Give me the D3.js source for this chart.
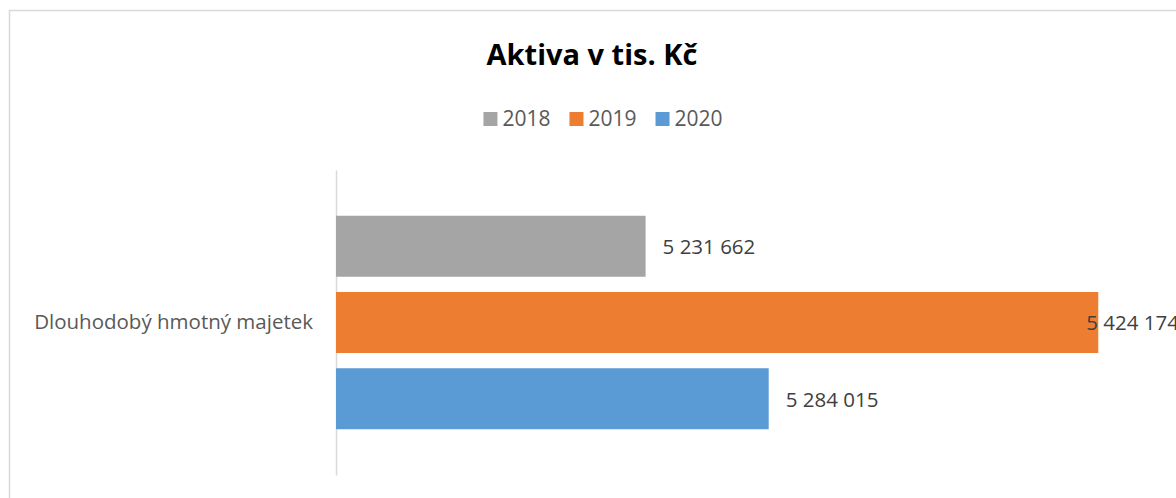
<!DOCTYPE html>
<html>
<head>
<meta charset="utf-8">
<script src="https://cdn.jsdelivr.net/npm/d3@7"></script>
<style>
  html, body { margin: 0; padding: 0; background: #fff; }
  svg { display: block; font-family: "Open Sans", sans-serif; }
</style>
</head>
<body>
<div id="chart"></div>
<script>
// data
var categories = ['Dlouhodobý hmotný majetek'];
var years = ['2018', '2019', '2020'];
var values = [5231662, 5424174, 5284015];
var colors = ['#a5a5a5', '#ed7d31', '#5b9bd5'];
var xDomain = [5100000, 5450000];
var chartTitle = 'Aktiva v tis. Kč';

var width = 1176, height = 498;
var chartRight = 1179;   // chart area runs a bit past the window
var plot = {left: 336, top: 170, bottom: 475, width: 823};

var svg = d3.select('#chart').append('svg')
  .attr('width', width)
  .attr('height', height);

// chart border
svg.append('rect')
  .attr('x', 9.5).attr('y', 10.5)
  .attr('width', 1300).attr('height', 600)
  .attr('fill', '#fff')
  .attr('stroke', '#d9d9d9')
  .attr('stroke-width', 1.5);

// title
svg.append('text')
  .attr('x', 592).attr('y', 65)
  .attr('text-anchor', 'middle')
  .style('font-size', '29px')
  .style('font-weight', 'bold')
  .attr('fill', '#000')
  .text(chartTitle);

// legend, centred under the title
var legend = svg.append('g');
var lgX = 0;
years.forEach(function(y, i) {
  var g = legend.append('g').attr('transform', 'translate(' + lgX + ',0)');
  g.append('rect').attr('x', 0).attr('y', 112).attr('width', 14).attr('height', 14)
    .attr('fill', colors[i]);
  var t = g.append('text').attr('x', 19).attr('y', 126)
    .style('font-size', '21px').attr('fill', '#595959').text(y);
  lgX += 19 + t.node().getComputedTextLength() + 19;
});
var lgW = lgX - 19;
legend.attr('transform', 'translate(' + (603 - lgW / 2) + ',0)');

// scales
var x = d3.scaleLinear().domain(xDomain).range([plot.left, plot.left + plot.width]);
var yCat = d3.scaleBand().domain(categories).range([plot.top, plot.bottom]);
var ySer = d3.scaleBand().domain(years).range([0, yCat.bandwidth()])
  .paddingInner(0.2).paddingOuter(0.6);

// category axis
var yAxis = d3.axisLeft(yCat).tickSize(0).tickPadding(23);
var ag = svg.append('g').attr('transform', 'translate(' + plot.left + ',0)').call(yAxis);
ag.select('.domain').attr('stroke', '#d9d9d9').attr('stroke-width', 1.5);
ag.selectAll('text')
  .style('font-size', '20.5px')
  .style('font-family', '"Open Sans", sans-serif')
  .attr('fill', '#595959')
  .attr('dy', '0.34em');

// bars
var rows = years.map(function(y, i) {
  return {cat: categories[0], year: y, value: values[i], color: colors[i]};
});
var bg = svg.append('g');
bg.selectAll('rect').data(rows).enter().append('rect')
  .attr('x', x(xDomain[0]))
  .attr('y', function(d) { return yCat(d.cat) + ySer(d.year); })
  .attr('width', function(d) { return x(d.value) - x(xDomain[0]); })
  .attr('height', ySer.bandwidth())
  .attr('fill', function(d) { return d.color; });

// data labels
var fmt = function(v) { return d3.format(',')(v).replace(/,/g, ' '); };
bg.selectAll('text').data(rows).enter().append('text')
  .attr('y', function(d) { return yCat(d.cat) + ySer(d.year) + ySer.bandwidth() / 2; })
  .attr('dy', '0.38em')
  .style('font-size', '20.5px')
  .attr('fill', '#404040')
  .text(function(d) { return fmt(d.value); })
  .attr('x', function(d) {
    var w = this.getComputedTextLength();
    return Math.min(x(d.value) + 17, chartRight - w);
  });
</script>
</body>
</html>
